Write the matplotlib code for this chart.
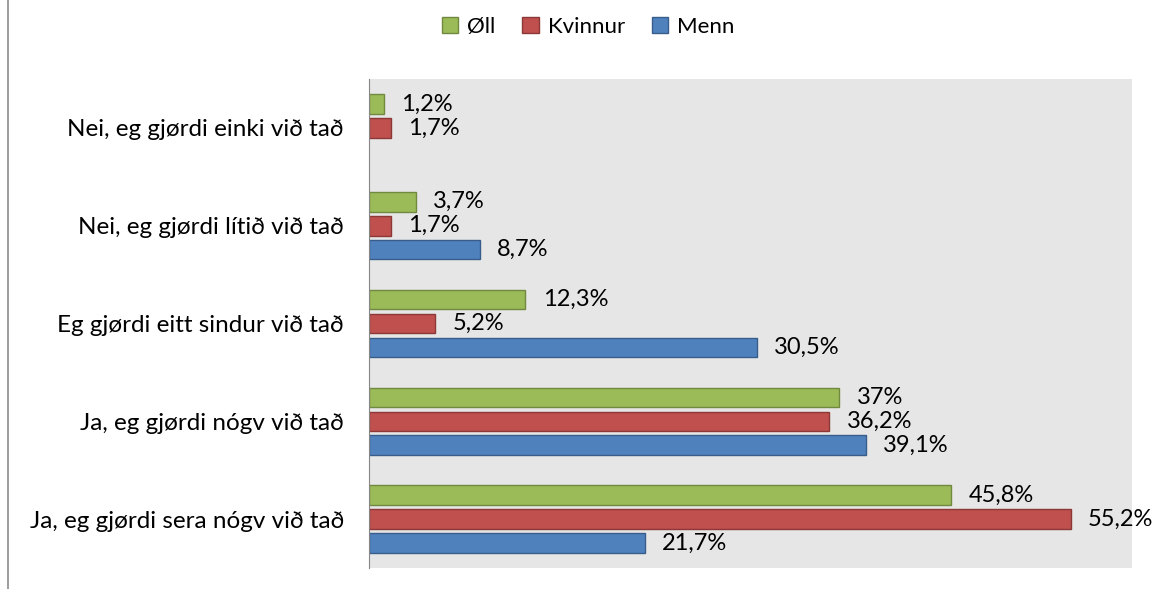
import numpy as np
import matplotlib
matplotlib.use("Agg")
import matplotlib.pyplot as plt
from matplotlib.lines import Line2D

categories = [
    "Nei, eg gjørdi einki við tað",
    "Nei, eg gjørdi lítið við tað",
    "Eg gjørdi eitt sindur við tað",
    "Ja, eg gjørdi nógv við tað",
    "Ja, eg gjørdi sera nógv við tað",
]
series_names = ["Øll", "Kvinnur", "Menn"]
oll = [1.2, 3.7, 12.3, 37, 45.8]
kvinnur = [1.7, 1.7, 5.2, 36.2, 55.2]
menn = [None, 8.7, 30.5, 39.1, 21.7]

fills = ["#9bbb59", "#c0504d", "#4f81bd"]
edges = ["#71893f", "#8c3836", "#385d8a"]

plt.rcParams['font.family'] = ['Lato', 'DejaVu Sans']
plt.rcParams['font.size'] = 17

fig = plt.figure(figsize=(11.56, 5.89), dpi=100)
ax = fig.add_axes([0.3192, 0.0357, 0.66, 0.830])
ax.set_facecolor("#e6e6e6")

y = np.arange(len(categories))
step = 0.245
height = 0.2
for i, (vals, fc, ec) in enumerate(zip([oll, kvinnur, menn], fills, edges)):
    offs = (i - 1) * step
    for j, v in enumerate(vals):
        if v is None:
            continue
        ax.barh(y[j] + offs, v, height=height, color=fc, edgecolor=ec, linewidth=1)
        lab = f"{v:g}".replace(".", ",") + "%"
        ax.text(v + 1.35, y[j] + offs, lab, va="center", ha="left", fontsize=17)

ax.set_xlim(0, 60)
ax.set_ylim(len(categories) - 0.5, -0.5)
ax.set_yticks(y)
ax.set_yticklabels(categories, fontsize=17.5)
ax.set_xticks([])
ax.tick_params(axis="y", length=0, pad=18)
for s in ["top", "right", "bottom"]:
    ax.spines[s].set_visible(False)
ax.spines["left"].set_color("#868686")

# outer frame line on the left
fig.add_artist(Line2D([8 / 1156, 8 / 1156], [0, 1], color="#8c8c8c", linewidth=1.2))

handles = [plt.Rectangle((0, 0), 1, 1, facecolor=fc, edgecolor=ec) for fc, ec in zip(fills, edges)]
fig.legend(handles, series_names, loc="center", bbox_to_anchor=(588 / 1156, 1 - 27 / 589),
           ncol=3, frameon=False, fontsize=16, handlelength=0.75, handleheight=0.75,
           handletextpad=0.4, columnspacing=1.2)

fig.savefig("out.png", dpi=100)
